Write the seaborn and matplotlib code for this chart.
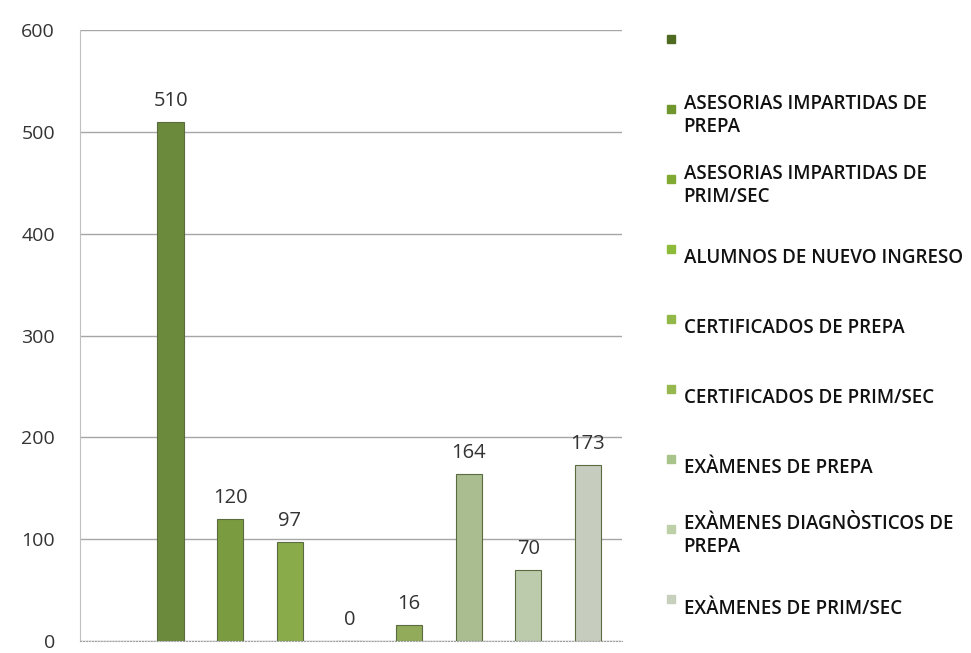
import matplotlib
matplotlib.use('Agg')
import matplotlib.pyplot as plt
from matplotlib.lines import Line2D
import seaborn as sns
import numpy as np
import pandas as pd

# Data
categories = ['', 'ASESORIAS IMPARTIDAS DE\nPREPA', 'ASESORIAS IMPARTIDAS DE\nPRIM/SEC',
              'ALUMNOS DE NUEVO INGRESO', 'CERTIFICADOS DE PREPA', 'CERTIFICADOS DE PRIM/SEC',
              'EXÀMENES DE PREPA', 'EXÀMENES DIAGNÒSTICOS DE\nPREPA', 'EXÀMENES DE PRIM/SEC']
values = [np.nan, 510, 120, 97, 0, 16, 164, 70, 173]
colors = ['#4f6b22', '#6f972e', '#80aa32', '#8fbb3a', '#93b84a', '#96b84e',
          '#a9c48a', '#bdd0a8', '#c6d0bc']

df = pd.DataFrame({'cat': categories, 'val': values})
palette = dict(zip(categories, colors))

sns.set_style('white')
plt.rcParams['font.family'] = ['Open Sans', 'DejaVu Sans']

fig = plt.figure(figsize=(9.71, 6.53), dpi=100)
ax = fig.add_axes([0.0824, 0.0184, 0.558, 0.9356])

sns.barplot(data=df, x='cat', y='val', hue='cat', order=categories, hue_order=categories,
            palette=palette, legend=False, width=0.44, ax=ax, edgecolor='#5a6b40',
            linewidth=0.8)

for cont in ax.containers:
    ax.bar_label(cont, fmt='%d', padding=8, fontsize=14.5, color='#333333')

ax.set_ylim(0, 600)
ax.set_yticks(range(0, 601, 100))
ax.set_xlim(-0.52, 8.57)
ax.set_xticks([])
ax.set_xlabel('')
ax.set_ylabel('')
ax.yaxis.grid(True, color='#a6a6a6', linewidth=1)
ax.set_axisbelow(True)
ax.tick_params(axis='y', length=0, pad=18, labelsize=14, labelcolor='#333333')
for s in ['top', 'right']:
    ax.spines[s].set_visible(False)
ax.spines['left'].set_color('#c0c0c0')
ax.spines['left'].set_linewidth(0.8)
ax.spines['bottom'].set_color('#a0a0a0')
ax.spines['bottom'].set_linestyle(':')

handles = [Line2D([], [], linestyle='none', marker='s', markersize=6,
                  markerfacecolor=c, markeredgecolor=c) for c in colors]
fig.legend(handles, categories, loc='upper left', bbox_to_anchor=(0.677, 0.975),
           frameon=False, prop={'size': 13.5, 'weight': 'semibold'},
           labelcolor='#111111', handlelength=0.65, handletextpad=0.35,
           handleheight=3.6, labelspacing=1.15, borderaxespad=0)

fig.savefig('out.png', dpi=100)
